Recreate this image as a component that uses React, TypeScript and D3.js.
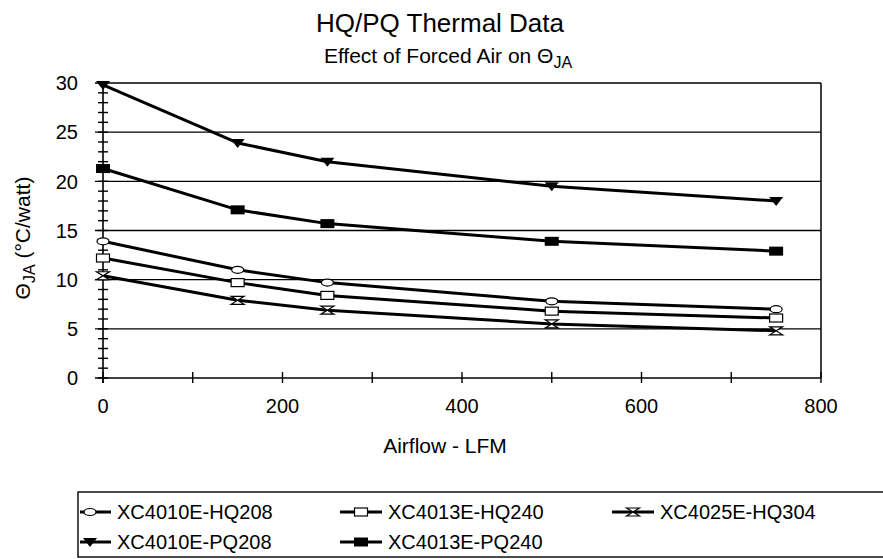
import { useEffect, useRef } from 'react';
import * as d3 from 'd3';

const airflow = [0, 150, 250, 500, 750];
const hq208 = [13.9, 11.0, 9.7, 7.8, 7.0];
const hq240 = [12.2, 9.7, 8.4, 6.8, 6.1];
const hq304 = [10.4, 7.9, 6.9, 5.5, 4.8];
const pq208 = [29.8, 23.9, 22.0, 19.5, 18.0];
const pq240 = [21.3, 17.1, 15.7, 13.9, 12.9];

const xTicks = [0, 200, 400, 600, 800];
const yTicks = [0, 5, 10, 15, 20, 25, 30];

type Marker = 'circle' | 'square' | 'hourglass' | 'triangle' | 'filledSquare';

const series: { name: string; values: number[]; marker: Marker }[] = [
  { name: 'XC4010E-HQ208', values: hq208, marker: 'circle' },
  { name: 'XC4013E-HQ240', values: hq240, marker: 'square' },
  { name: 'XC4025E-HQ304', values: hq304, marker: 'hourglass' },
  { name: 'XC4010E-PQ208', values: pq208, marker: 'triangle' },
  { name: 'XC4013E-PQ240', values: pq240, marker: 'filledSquare' },
];

const FONT = 'Arial, "Liberation Sans", sans-serif';

function drawMarker(sel: d3.Selection<SVGGElement, unknown, null, undefined>, kind: Marker) {
  if (kind === 'circle') {
    sel.append('ellipse').attr('rx', 6).attr('ry', 3.5).attr('fill', '#fff').attr('stroke', '#000').attr('stroke-width', 1.2);
  } else if (kind === 'square') {
    sel.append('rect').attr('x', -6.5).attr('y', -4).attr('width', 13).attr('height', 8)
      .attr('fill', '#fff').attr('stroke', '#000').attr('stroke-width', 1.2);
  } else if (kind === 'hourglass') {
    sel.append('path').attr('d', 'M-6.5,-4L6.5,-4L-6.5,4L6.5,4Z').attr('fill', '#fff').attr('stroke', '#000').attr('stroke-width', 1.2);
  } else if (kind === 'triangle') {
    sel.append('path').attr('d', 'M-7,-4L7,-4L0,5Z').attr('fill', '#000');
  } else {
    sel.append('rect').attr('x', -7).attr('y', -4.5).attr('width', 14).attr('height', 9).attr('fill', '#000');
  }
}

export default function App() {
  const svgRef = useRef<SVGSVGElement>(null);

  useEffect(() => {
    if (!svgRef.current) return;
    const svg = d3.select(svgRef.current);
    svg.selectAll('*').remove();

    const left = 103, right = 821, top = 83, bottom = 378;
    const x = d3.scaleLinear().domain([0, 800]).range([left, right]);
    const y = d3.scaleLinear().domain([0, 30]).range([bottom, top]);

    // Titles
    svg.append('text').attr('x', 440).attr('y', 32).attr('text-anchor', 'middle')
      .attr('font-family', FONT).attr('font-size', 26).text('HQ/PQ Thermal Data');
    const sub = svg.append('text').attr('x', 448).attr('y', 63).attr('text-anchor', 'middle')
      .attr('font-family', FONT).attr('font-size', 21);
    sub.append('tspan').text('Effect of Forced Air on Θ');
    sub.append('tspan').attr('dy', 5).attr('font-size', 16).text('JA');

    // Gridlines
    svg.append('g').selectAll('line').data(yTicks.filter(t => t > 0)).join('line')
      .attr('x1', left - 8).attr('x2', right).attr('y1', d => y(d)).attr('y2', d => y(d))
      .attr('stroke', '#000').attr('stroke-width', 1.4);

    // Right border
    svg.append('line').attr('x1', right).attr('x2', right).attr('y1', top).attr('y2', bottom)
      .attr('stroke', '#000').attr('stroke-width', 1.5);

    // Axes lines
    svg.append('line').attr('x1', left - 8).attr('x2', right).attr('y1', bottom).attr('y2', bottom)
      .attr('stroke', '#000').attr('stroke-width', 1.6);
    svg.append('line').attr('x1', left).attr('x2', left).attr('y1', top).attr('y2', bottom + 5)
      .attr('stroke', '#000').attr('stroke-width', 1.6);

    // Y minor ticks (every 1)
    svg.append('g').selectAll('line').data(d3.range(0, 31)).join('line')
      .attr('x1', left - 5).attr('x2', left + 5).attr('y1', d => y(d)).attr('y2', d => y(d))
      .attr('stroke', '#000').attr('stroke-width', 1.4);

    // X ticks (every 100)
    svg.append('g').selectAll('line').data(d3.range(0, 801, 100)).join('line')
      .attr('x1', d => x(d)).attr('x2', d => x(d)).attr('y1', bottom - 6).attr('y2', bottom + 5)
      .attr('stroke', '#000').attr('stroke-width', 1.4);

    // Tick labels
    svg.append('g').selectAll('text').data(yTicks).join('text')
      .attr('x', left - 25).attr('y', d => y(d)).attr('dy', '0.36em').attr('text-anchor', 'end')
      .attr('font-family', FONT).attr('font-size', 20).text(d => d);
    svg.append('g').selectAll('text').data(xTicks).join('text')
      .attr('x', d => x(d)).attr('y', 413).attr('text-anchor', 'middle')
      .attr('font-family', FONT).attr('font-size', 20).text(d => d);

    // Axis titles
    svg.append('text').attr('x', 445).attr('y', 453).attr('text-anchor', 'middle')
      .attr('font-family', FONT).attr('font-size', 21).text('Airflow - LFM');
    const yl = svg.append('text').attr('transform', 'translate(30, 238) rotate(-90)')
      .attr('text-anchor', 'middle').attr('font-family', FONT).attr('font-size', 21);
    yl.append('tspan').text('Θ');
    yl.append('tspan').attr('dy', 5).attr('font-size', 16).text('JA');
    yl.append('tspan').attr('dy', -5).text(' (°C/watt)');

    // Series
    const line = d3.line<number>()
      .x((_, i) => x(airflow[i]))
      .y(d => y(d));

    series.forEach(s => {
      svg.append('path').datum(s.values).attr('fill', 'none').attr('stroke', '#000')
        .attr('stroke-width', 3).attr('stroke-linejoin', 'round').attr('d', line);
      s.values.forEach((v, i) => {
        const g = svg.append('g').attr('transform', `translate(${x(airflow[i])},${y(v)})`);
        drawMarker(g, s.marker);
      });
    });

    // Legend (runs off the right edge, like the original)
    const boxLeft = 78;
    svg.append('rect').attr('x', boxLeft).attr('y', 492).attr('width', 840).attr('height', 65)
      .attr('fill', 'none').attr('stroke', '#000').attr('stroke-width', 1.4);
    const textCols = [117, 388, 660];
    const rows = [512, 542];
    series.forEach((s, i) => {
      const tx = textCols[i % 3];
      const cy = rows[Math.floor(i / 3)];
      svg.append('line').attr('x1', Math.max(boxLeft + 2, tx - 48)).attr('x2', tx - 6).attr('y1', cy).attr('y2', cy)
        .attr('stroke', '#000').attr('stroke-width', 3);
      const g = svg.append('g').attr('transform', `translate(${tx - 27},${cy})`);
      drawMarker(g, s.marker);
      svg.append('text').attr('x', tx).attr('y', cy).attr('dy', '0.36em')
        .attr('font-family', FONT).attr('font-size', 20).text(s.name);
    });
  }, []);

  return (
    <svg ref={svgRef} width={883} height={559}
      style={{ position: 'absolute', left: 0, top: 0, background: '#fff' }} />
  );
}
